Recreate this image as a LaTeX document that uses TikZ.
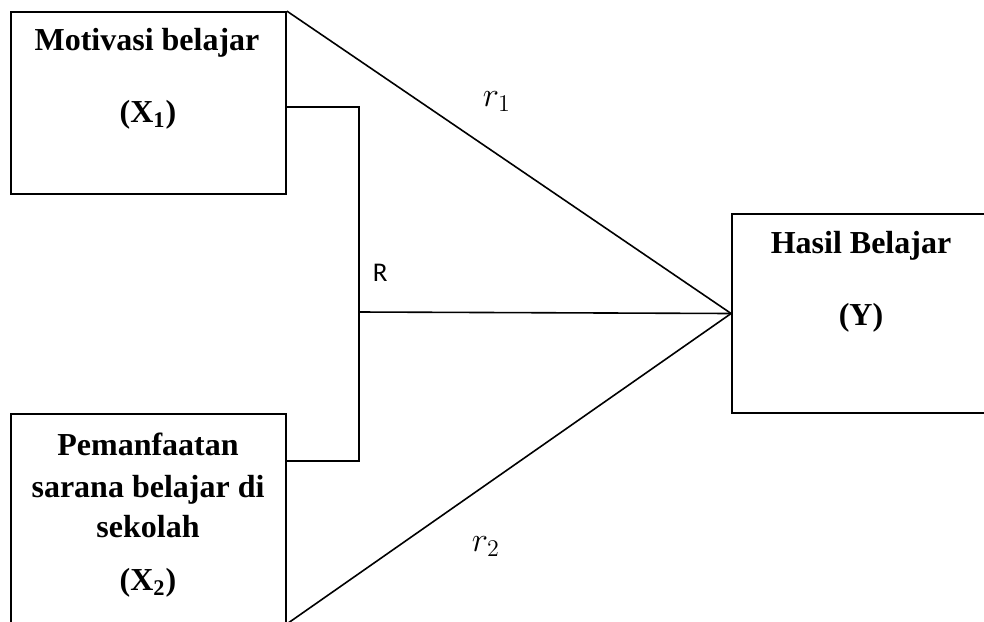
\documentclass[tikz,border=0pt]{standalone}
\usepackage{fontspec}
\setmainfont{Liberation Serif}
\newfontfamily\calib{Carlito}
\begin{document}
\begin{tikzpicture}[x=0.5pt,y=-0.5pt,line width=0.8pt,
  box/.style={draw,line width=0.9pt,inner sep=0pt},
  lbl/.style={font=\fontsize{16}{19}\selectfont\bfseries,anchor=base,inner sep=0pt},
  rl/.style={font=\fontsize{17}{19}\selectfont,anchor=base west,inner sep=0pt}]
\useasboundingbox (0,0) rectangle (984,621);
\clip (0,0) rectangle (984,621);
\node[box,minimum width=137.5pt,minimum height=91pt] (b1) at (148.5,103) {};
\node[box,minimum width=137.5pt,minimum height=104.5pt] (b2) at (148.5,518.5) {};
\node[box,minimum width=129pt,minimum height=99.5pt] (y) at (861,313.5) {};
% texts
\node[lbl] (t1a) at (147,50) {Motivasi belajar};
\node[lbl] (t1b) at (148,122) {(X\textsubscript{1})};
\node[lbl] (t2a) at (148,455) {Pemanfaatan};
\node[lbl] (t2b) at (148,497) {sarana belajar di};
\node[lbl] (t2c) at (148,537) {sekolah};
\node[lbl] (t2d) at (148,590) {(X\textsubscript{2})};
\node[lbl] (t3a) at (861,253) {Hasil Belajar};
\node[lbl] (t3b) at (861,325) {(Y)};
% connectors
\coordinate (j1) at (359,107);
\coordinate (j2) at (359,461);
\coordinate (j) at (359,312);
\draw (b1.east |- j1) -- (j1) -- (j2) -- (b2.east |- j2);
\draw (j) -- (y.west);
\draw (b1.north east) -- (y.west);
\draw (b2.south east) -- (y.west);
% labels
\node[rl,font=\calib\fontsize{13.5}{16}\selectfont] (R) at (372,281) {R};
\node[rl] (r1) at (482,106) {$r_1$};
\node[rl] (r2) at (471,551) {$r_2$};
\end{tikzpicture}
\end{document}
